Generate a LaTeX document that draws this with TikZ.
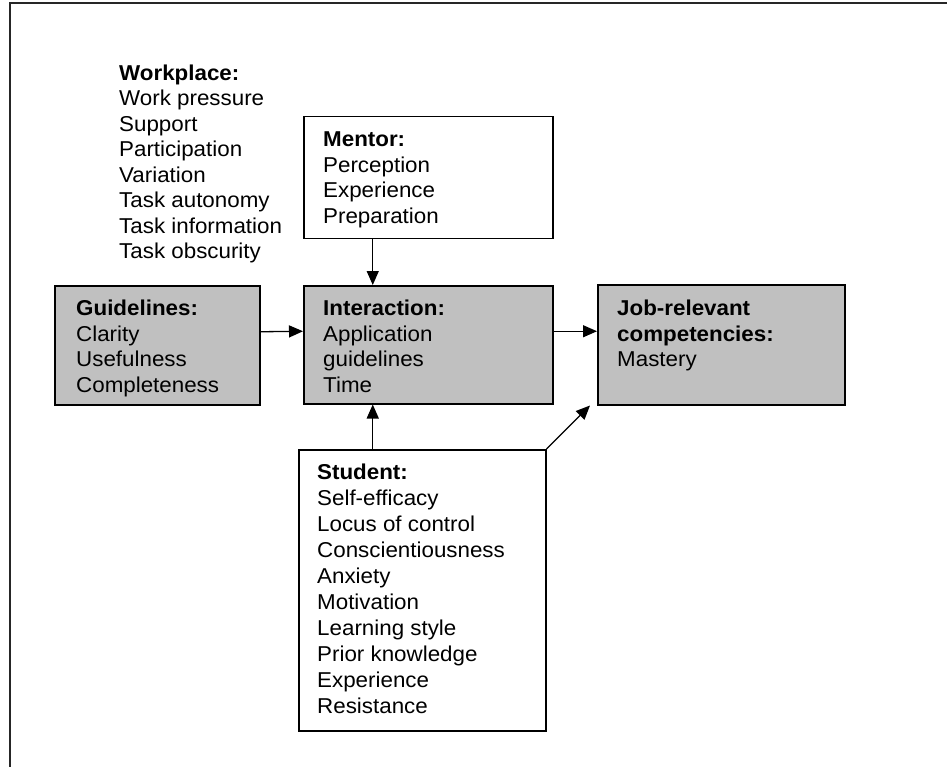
\documentclass[tikz,border=0pt]{standalone}
\usepackage{fontspec}
\setmainfont{Liberation Sans}[FakeStretch=1.04]
\usetikzlibrary{arrows.meta}
\definecolor{boxgray}{RGB}{192,192,192}
\tikzset{
  box/.style={draw=black, line width=1.5pt, rectangle, inner sep=0pt, anchor=north west},
  graybox/.style={box, fill=boxgray},
  whitebox/.style={box, fill=white},
  txt/.style={anchor=north west, inner sep=0pt, align=left,
    font=\fontsize{21.5pt}{25.5pt}\selectfont},
  arr/.style={line width=1.3pt, -{Triangle[length=14pt,width=12pt]}},
  frame/.style={line width=1.8pt, black!85}
}
\begin{document}
\begin{tikzpicture}[x=1pt,y=-1pt]
\useasboundingbox (0,0) rectangle (947,767);

% outer frame: only the top and left rules are drawn
\coordinate (frameTL) at (10,3);
\coordinate (frameTR) at (947,3);
\coordinate (frameBL) at (10,767);
\draw[frame] (frameTR) -- (frameTL) -- (frameBL);

% boxes
\node[whitebox, minimum width=249pt, minimum height=122pt] (mentor) at (303,116) {};
\node[graybox, minimum width=205pt, minimum height=119pt] (guide) at (54,285) {};
\node[graybox, minimum width=249pt, minimum height=118pt] (inter) at (303,285) {};
\node[graybox, minimum width=247pt, minimum height=120pt] (job) at (597,284) {};
\node[whitebox, minimum width=247pt, minimum height=281pt] (student) at (298,449) {};

% texts
\node[txt] (workT) at (119,64.5) {\textbf{Workplace:}\\Work pressure\\Support\\Participation\\Variation\\Task autonomy\\Task information\\Task obscurity};
\node[txt] (mentorT) at (323,132) {\textbf{Mentor:}\\Perception\\Experience\\Preparation};
\node[txt] (guideT) at (76,300) {\textbf{Guidelines:}\\Clarity\\Usefulness\\Completeness};
\node[txt] (interT) at (323,300) {\textbf{Interaction:}\\Application\\guidelines\\Time};
\node[txt] (jobT) at (617,300) {\textbf{Job-relevant}\\\textbf{competencies:}\\Mastery};
\node[txt, font=\fontsize{21.5pt}{26pt}\selectfont] (studentT) at (317,464) {\textbf{Student:}\\Self-efficacy\\Locus of control\\Conscientiousness\\Anxiety\\Motivation\\Learning style\\Prior knowledge\\Experience\\Resistance};

% connectors
\draw[arr] ([yshift=13.5pt]guide.east) -- ([yshift=13.5pt]inter.west);
\draw[arr] ([yshift=13.5pt]inter.east) -- ([yshift=13.5pt]job.west);
\draw[arr] ([xshift=-55.5pt]mentor.south) -- ([xshift=-55.5pt]inter.north);
\draw[arr] ([xshift=-49.5pt]student.north) -- ([xshift=-55.5pt]inter.south);
\draw[arr] (student.north east) -- ([xshift=-7pt]job.south west);
\end{tikzpicture}
\end{document}
